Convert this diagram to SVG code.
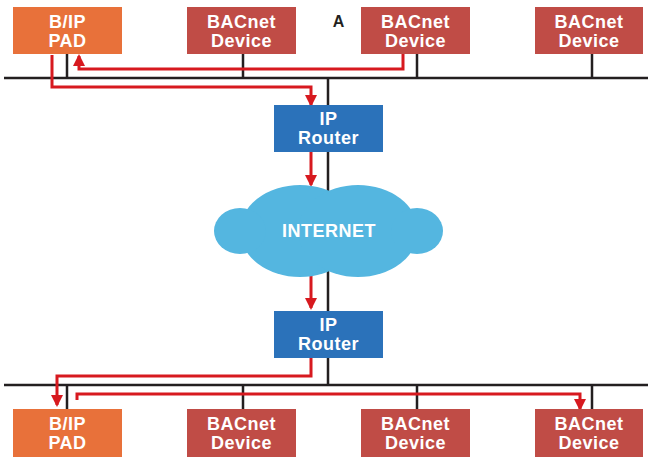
<svg xmlns="http://www.w3.org/2000/svg" width="648" height="458" viewBox="0 0 648 458">
<style>
.t{font-family:"Liberation Sans",Arial,sans-serif;font-weight:bold;font-size:18px;letter-spacing:0.5px;fill:#fff;text-anchor:middle}
.pad{fill:#E8713A}
.dev{fill:#C04C46}
.rt{fill:#2B72BA}
.bus{stroke:#231F20;stroke-width:2.5;fill:none}
.red{stroke:#D7191F;stroke-width:3;fill:none}
</style>
<defs>
<marker id="ah" markerUnits="userSpaceOnUse" markerWidth="12" markerHeight="12" viewBox="0 0 12 12" refX="10" refY="6" orient="auto">
<path d="M0,0 L12,6 L0,12 Z" fill="#D7191F"/>
</marker>
</defs>
<rect width="648" height="458" fill="#fff"/>
<g id="connectors">
<path class="bus" d="M4,78 H648 M4,385 H648"/>
<path class="bus" d="M67,54 V78 M243,54 V78 M417,54 V78 M592,54 V78"/>
<path class="bus" d="M67,385 V409 M243,385 V409 M417,385 V409 M592,385 V409"/>
<path class="bus" d="M328,78 V385"/>
<path class="red" d="M403,54 V69 H79 V56" marker-end="url(#ah)"/>
<path class="red" d="M52,55 V87 H311 V105" marker-end="url(#ah)"/>
<path class="red" d="M311,152 V185" marker-end="url(#ah)"/>
<path class="red" d="M311,276 V308" marker-end="url(#ah)"/>
<path class="red" d="M311,358 V376 H57 V405" marker-end="url(#ah)"/>
<path class="red" d="M77,400 V394 H580 V409" marker-end="url(#ah)"/>
</g>
<g id="cloud">
<g fill="#54B6E0">
<ellipse cx="300" cy="231" rx="60" ry="46"/>
<ellipse cx="358" cy="231" rx="60" ry="46"/>
<ellipse cx="240" cy="231" rx="26" ry="23"/>
<ellipse cx="417" cy="231" rx="26" ry="23"/>
</g>
<text class="t" x="329" y="237">INTERNET</text>
</g>
<g id="pad-top"><rect class="pad" x="13" y="7" width="109" height="47"/><text class="t" x="67.5" y="28">B/IP</text><text class="t" x="67.5" y="47">PAD</text></g>
<g id="dev-top-1"><rect class="dev" x="187" y="7" width="109" height="47"/><text class="t" x="241.5" y="28">BACnet</text><text class="t" x="241.5" y="47">Device</text></g>
<g id="dev-top-2"><rect class="dev" x="361" y="7" width="109" height="47"/><text class="t" x="415.5" y="28">BACnet</text><text class="t" x="415.5" y="47">Device</text></g>
<g id="dev-top-3"><rect class="dev" x="535" y="7" width="108" height="47"/><text class="t" x="589" y="28">BACnet</text><text class="t" x="589" y="47">Device</text></g>
<g id="label-a"><text x="338.5" y="27" font-family="Liberation Sans,Arial,sans-serif" font-weight="bold" font-size="16" fill="#231F20" text-anchor="middle">A</text></g>
<g id="router-top"><rect class="rt" x="274" y="105" width="109" height="47"/><text class="t" x="328.5" y="125">IP</text><text class="t" x="328.5" y="144">Router</text></g>
<g id="router-bottom"><rect class="rt" x="274" y="311" width="109" height="47"/><text class="t" x="328.5" y="331">IP</text><text class="t" x="328.5" y="350">Router</text></g>
<g id="pad-bottom"><rect class="pad" x="13" y="409" width="109" height="48"/><text class="t" x="67.5" y="430">B/IP</text><text class="t" x="67.5" y="449">PAD</text></g>
<g id="dev-bottom-1"><rect class="dev" x="187" y="409" width="109" height="48"/><text class="t" x="241.5" y="430">BACnet</text><text class="t" x="241.5" y="449">Device</text></g>
<g id="dev-bottom-2"><rect class="dev" x="361" y="409" width="109" height="48"/><text class="t" x="415.5" y="430">BACnet</text><text class="t" x="415.5" y="449">Device</text></g>
<g id="dev-bottom-3"><rect class="dev" x="535" y="409" width="108" height="48"/><text class="t" x="589" y="430">BACnet</text><text class="t" x="589" y="449">Device</text></g>
</svg>
